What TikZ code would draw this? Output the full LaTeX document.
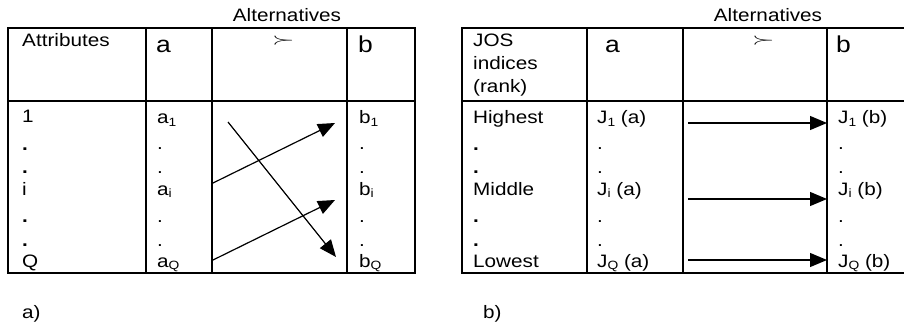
\documentclass[tikz,border=0pt]{standalone}
\usepackage{fontspec}
\setmainfont{Liberation Sans}[FakeStretch=1.15]
\usepackage{tikz}
\usetikzlibrary{arrows.meta}
\tikzset{
  %% Text in the cells
  celltext/.style={
    anchor=base west, inner sep=0pt,
    font=\fontsize{18}{20}\selectfont},
  %% Big letters of the alternatives
  alttext/.style={
    anchor=base west, inner sep=0pt,
    font=\fontsize{23}{25}\selectfont},
  %% Dots in the first column
  dotmark/.style={
    anchor=base west, inner sep=0pt,
    font=\fontsize{18}{20}\selectfont\bfseries},
  %% Preference sign
  prefsign/.style={
    anchor=base west, inner sep=0pt,
    font=\fontsize{20}{22}\selectfont},
  %% Table rules
  rule/.style={line width=1.8pt, line cap=rect},
  %% Arrows
  arrow/.style={-{Triangle[length=17pt,width=14pt]}, line width=1.2pt},
}
\newcommand{\idx}[1]{\raisebox{-0.3ex}{\fontsize{12}{12}\selectfont #1}}

\begin{document}
\begin{tikzpicture}[x=1pt, y=-1pt]
  \useasboundingbox (0,0) rectangle (904,326);

  %% Table a): rules
  \draw[rule] (8,28) rectangle (415,273);
  \draw[rule] (8,101) -- (415,101);
  \draw[rule] (146,28) -- (146,273);
  \draw[rule] (212,28) -- (212,273);
  \draw[rule] (347,28) -- (347,273);

  %% Table a): header
  \node[celltext, anchor=base] (altA) at (287,22) {Alternatives};
  \node[celltext] (attr) at (22,47) {Attributes};
  \node[alttext]  (hdA)  at (156,53) {a};
  \node[prefsign] (prefA) at (272,45) {\scalebox{1.4}[0.75]{$\succ$}};
  \node[alttext]  (hdB)  at (358,53) {b};

  %% Table a): first column
  \node[celltext] (one) at (22,123) {1};
  \node[dotmark]  (d1)  at (22,150) {.};
  \node[dotmark]  (d2)  at (22,173) {.};
  \node[celltext] (ii)  at (22,195) {i};
  \node[dotmark]  (d3)  at (22,222) {.};
  \node[dotmark]  (d4)  at (22,246) {.};
  \node[celltext] (qq)  at (22,267) {Q};

  %% Table a): alternative a
  \node[celltext] (a1) at (157,124) {a\idx{1}};
  \node[celltext] (e1) at (157,149) {.};
  \node[celltext] (e2) at (157,173) {.};
  \node[celltext] (ai) at (157,195) {a\idx{i}};
  \node[celltext] (e3) at (157,222) {.};
  \node[celltext] (e4) at (157,246) {.};
  \node[celltext] (aQ) at (157,267) {a\idx{Q}};

  %% Table a): alternative b
  \node[celltext] (b1) at (359,124) {b\idx{1}};
  \node[celltext] (f1) at (359,149) {.};
  \node[celltext] (f2) at (359,173) {.};
  \node[celltext] (bi) at (359,195) {b\idx{i}};
  \node[celltext] (f3) at (359,222) {.};
  \node[celltext] (f4) at (359,246) {.};
  \node[celltext] (bQ) at (359,267) {b\idx{Q}};

  %% Table a): crossing arrows
  \coordinate (s1) at (228,122);
  \coordinate (t1) at (336,257);
  \coordinate (s2) at (213,183);
  \coordinate (t2) at (335,123);
  \coordinate (s3) at (213,260);
  \coordinate (t3) at (335,200);
  \draw[arrow] (s1) -- (t1);
  \draw[arrow] (s2) -- (t2);
  \draw[arrow] (s3) -- (t3);

  \node[celltext] (labA) at (22,318) {a)};

  %% Table b): rules
  \draw[rule] (910,28) -- (462,28) -- (462,273) -- (910,273);
  \draw[rule] (462,101) -- (910,101);
  \draw[rule] (587,28) -- (587,273);
  \draw[rule] (683,28) -- (683,273);
  \draw[rule] (827,28) -- (827,273);

  %% Table b): header
  \node[celltext, anchor=base] (altB) at (768,22) {Alternatives};
  \node[celltext] (jos) at (473,47) {JOS};
  \node[celltext] (ind) at (473,70) {indices};
  \node[celltext] (rnk) at (473,93) {(rank)};
  \node[alttext]  (hdJa) at (605,53) {a};
  \node[prefsign] (prefB) at (752,45) {\scalebox{1.4}[0.75]{$\succ$}};
  \node[alttext]  (hdJb) at (836,53) {b};

  %% Table b): first column
  \node[celltext] (high) at (473,124) {Highest};
  \node[dotmark]  (g1)   at (473,150) {.};
  \node[dotmark]  (g2)   at (473,173) {.};
  \node[celltext] (mid)  at (473,195) {Middle};
  \node[dotmark]  (g3)   at (473,222) {.};
  \node[dotmark]  (g4)   at (473,246) {.};
  \node[celltext] (low)  at (473,267) {Lowest};

  %% Table b): alternative a
  \node[celltext] (ja1) at (597,124) {J\idx{1} (a)};
  \node[celltext] (h1)  at (597,149) {.};
  \node[celltext] (h2)  at (597,173) {.};
  \node[celltext] (jai) at (597,195) {J\idx{i} (a)};
  \node[celltext] (h3)  at (597,222) {.};
  \node[celltext] (h4)  at (597,246) {.};
  \node[celltext] (jaQ) at (597,267) {J\idx{Q} (a)};

  %% Table b): alternative b
  \node[celltext] (jb1) at (838,124) {J\idx{1} (b)};
  \node[celltext] (k1)  at (838,149) {.};
  \node[celltext] (k2)  at (838,173) {.};
  \node[celltext] (jbi) at (838,195) {J\idx{i} (b)};
  \node[celltext] (k3)  at (838,222) {.};
  \node[celltext] (k4)  at (838,246) {.};
  \node[celltext] (jbQ) at (838,267) {J\idx{Q} (b)};

  %% Table b): parallel arrows
  \coordinate (u1) at (688,123);
  \coordinate (v1) at (827,123);
  \coordinate (u2) at (688,199);
  \coordinate (v2) at (827,199);
  \coordinate (u3) at (688,260);
  \coordinate (v3) at (827,260);
  \draw[arrow] (u1) -- (v1);
  \draw[arrow] (u2) -- (v2);
  \draw[arrow] (u3) -- (v3);

  \node[celltext] (labB) at (483,318) {b)};

\end{tikzpicture}
\end{document}
